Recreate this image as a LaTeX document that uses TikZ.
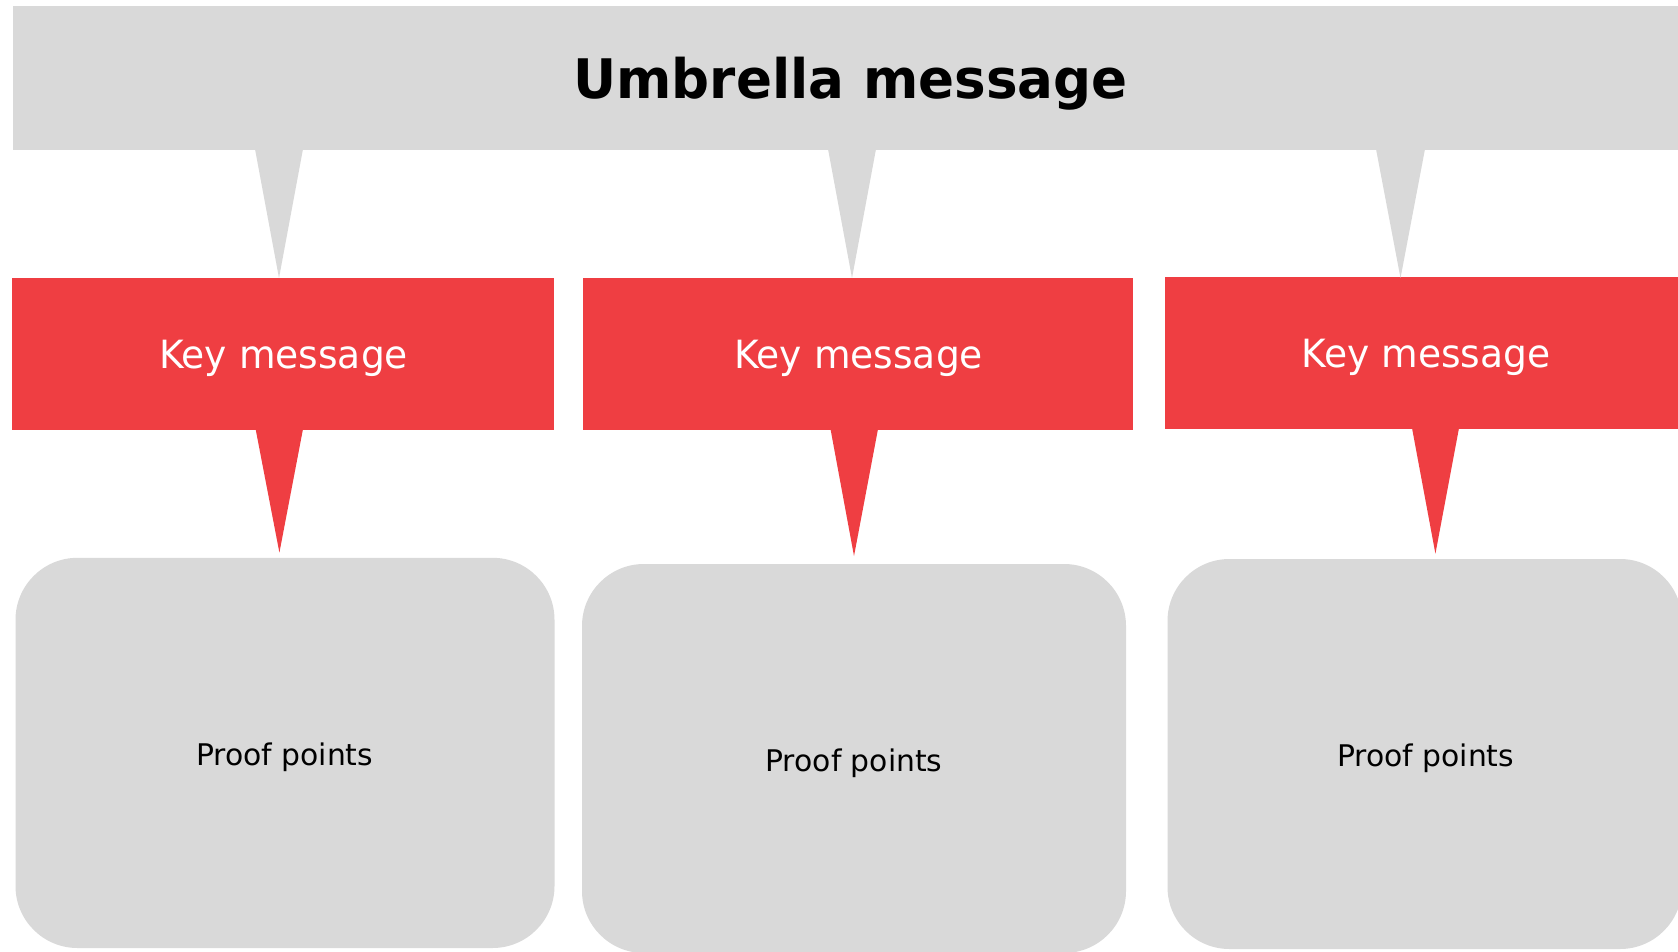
\documentclass[tikz,border=0pt]{standalone}
\usepackage{fontspec}
\setmainfont{DejaVu Sans}
\newfontfamily\umbfont{DejaVu Sans}[FakeStretch=0.975]
\newfontfamily\keyfont{DejaVu Sans}[FakeStretch=0.966]
\newfontfamily\prooffont{DejaVu Sans}
\usetikzlibrary{calc}
\definecolor{boxgray}{HTML}{D9D9D9}
\definecolor{keyred}{HTML}{EF3E42}
\begin{document}
\begin{tikzpicture}[x=1pt,y=-1pt,
  banner/.style={fill=boxgray, draw=none, inner sep=0pt, outer sep=0pt, anchor=north west},
  keybox/.style={fill=keyred, draw=none, inner sep=0pt, outer sep=0pt, anchor=north west, minimum height=152pt},
  proofbox/.style={fill=boxgray, draw=none, inner sep=0pt, outer sep=0pt, anchor=north west, rounded corners=62pt},
  umbtext/.style={anchor=base, inner sep=0pt, text=black, font=\umbfont\bfseries\fontsize{54.5}{60}\selectfont},
  keytext/.style={anchor=base, inner sep=0pt, text=white, font=\keyfont\fontsize{38.9}{46}\selectfont},
  prooftext/.style={anchor=base, inner sep=0pt, text=black, font=\prooffont\fontsize{29.8}{36}\selectfont},
  grayptr/.style={fill=boxgray, draw=none},
  redptr/.style={fill=keyred, draw=none}
]
\useasboundingbox (0,0) rectangle (1678,952);
\clip (0,0) rectangle (1678,952);
\fill[white] (0,0) rectangle (1678,952);

% umbrella banner
\node[banner, minimum width=1677pt, minimum height=143.6pt] (umb) at (12.8,6.4) {};
\node[umbtext] (umbt) at (850.5,99) {Umbrella message};

% key message boxes
\node[keybox, minimum width=542pt] (km1) at (12,278) {};
\node[keybox, minimum width=550pt] (km2) at (583,278) {};
\node[keybox, minimum width=525pt] (km3) at (1165,277) {};
\node[keytext] (kt1) at (283.5,368.7) {Key message};
\node[keytext] (kt2) at (858.5,368.7) {Key message};
\node[keytext] (kt3) at (1425.8,367.7) {Key message};

% proof point boxes
\node[proofbox, minimum width=539pt, minimum height=390.2pt] (pp1) at (15.5,557.8) {};
\node[proofbox, minimum width=544pt, minimum height=389pt] (pp2) at (582,564) {};
\node[proofbox, minimum width=514.5pt, minimum height=390pt] (pp3) at (1167.5,559) {};
\node[prooftext] (pt1) at (284.6,765) {Proof points};
\node[prooftext] (pt2) at (854,771.5) {Proof points};
\node[prooftext] (pt3) at (1425.6,766) {Proof points};

% pointer tips
\coordinate (g1) at (279,278);
\coordinate (g2) at (852,278);
\coordinate (g3) at (1400.5,278);
\coordinate (r1) at (279.4,552.6);
\coordinate (r2) at (854,556);
\coordinate (r3) at (1435.4,553.7);

% gray pointers: umbrella -> key messages
\fill[grayptr] ($(umb.south -| g1)+(-24,-1)$) -- (g1) -- ($(umb.south -| g1)+(24,-1)$) -- cycle;
\fill[grayptr] ($(umb.south -| g2)+(-24,-1)$) -- (g2) -- ($(umb.south -| g2)+(24,-1)$) -- cycle;
\fill[grayptr] ($(umb.south -| g3)+(-24.5,-1)$) -- (g3) -- ($(umb.south -| g3)+(24.5,-1)$) -- cycle;

% red pointers: key messages -> proof points
\fill[redptr] ($(km1.south -| r1)+(-23.8,-1)$) -- (r1) -- ($(km1.south -| r1)+(23.6,-1)$) -- cycle;
\fill[redptr] ($(km2.south -| r2)+(-23.5,-1)$) -- (r2) -- ($(km2.south -| r2)+(24,-1)$) -- cycle;
\fill[redptr] ($(km3.south -| r3)+(-23.4,-1)$) -- (r3) -- ($(km3.south -| r3)+(23.6,-1)$) -- cycle;
\end{tikzpicture}
\end{document}
